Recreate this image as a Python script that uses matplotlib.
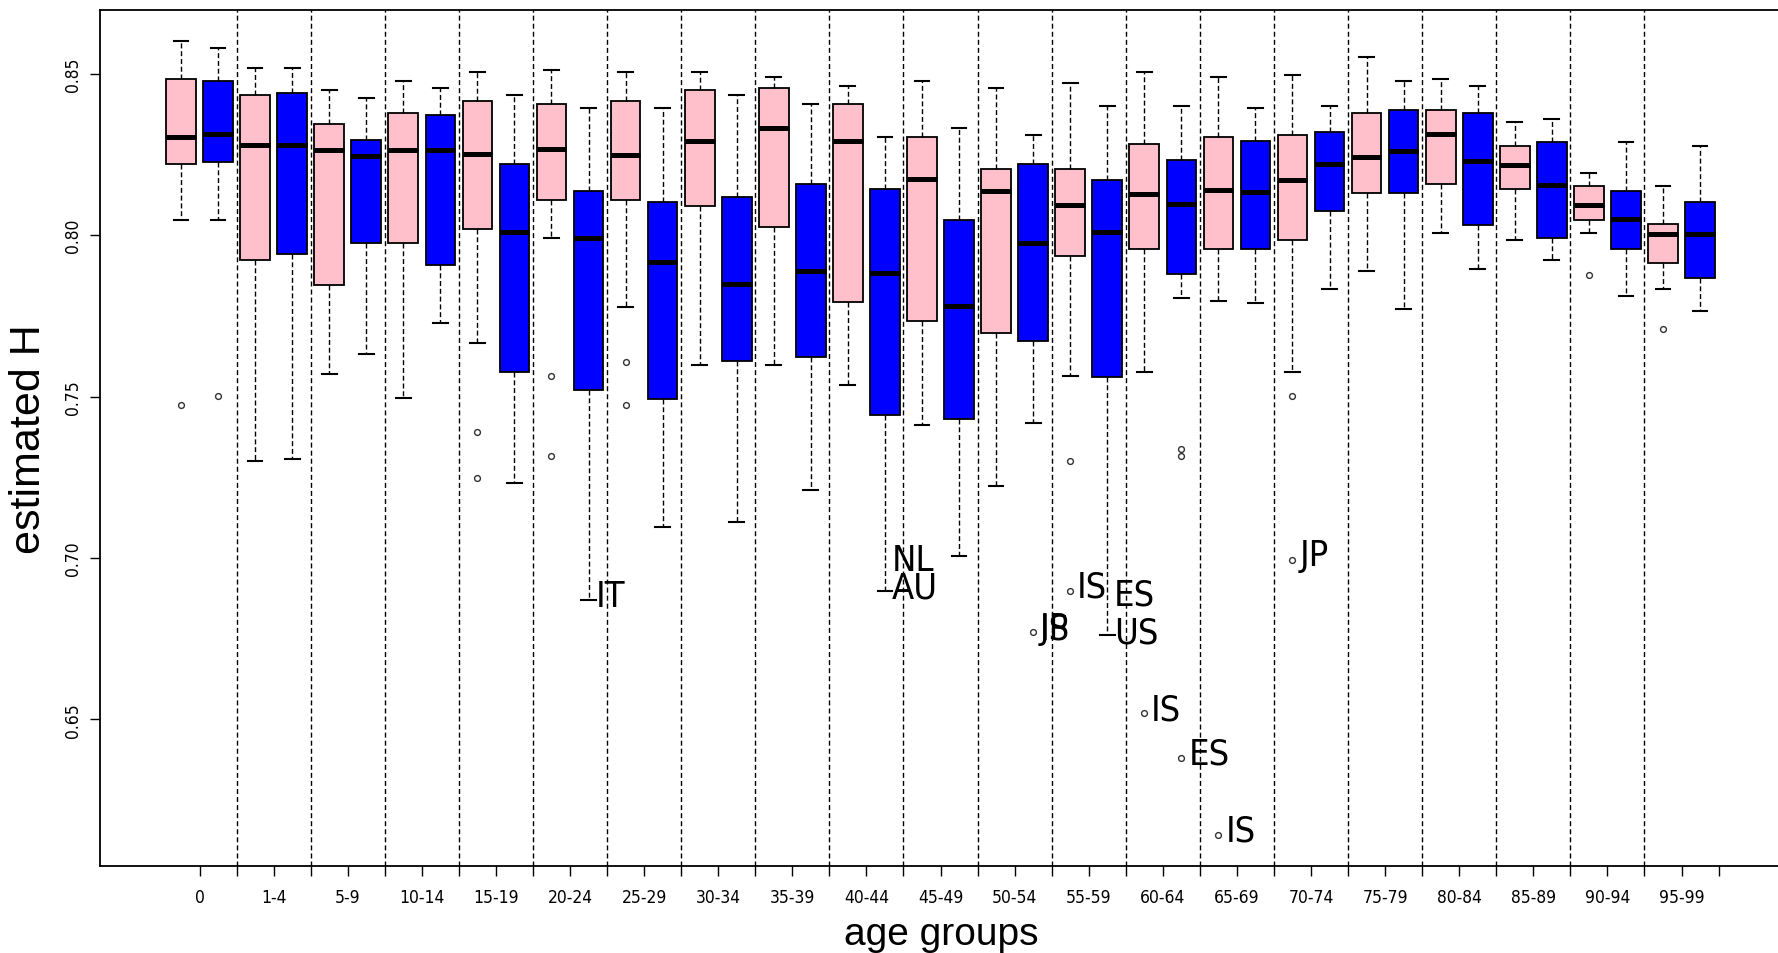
import matplotlib
matplotlib.use("Agg")
import matplotlib.pyplot as plt
from matplotlib import font_manager
import numpy as np

# age groups on the x axis
age_groups = ["0", "1-4", "5-9", "10-14", "15-19", "20-24", "25-29", "30-34",
              "35-39", "40-44", "45-49", "50-54", "55-59", "60-64", "65-69",
              "70-74", "75-79", "80-84", "85-89", "90-94", "95-99"]

# pink boxes: lower whisker, q1, median, q3, upper whisker
pink_lo = [0.8047, 0.7299, 0.7569, 0.7494, 0.7667, 0.7992, 0.7776, 0.7598, 0.7598, 0.7535, 0.7411,
           0.7223, 0.7562, 0.7576, 0.7797, 0.7576, 0.7888, 0.8005, 0.7986, 0.8005, 0.7832]
pink_q1 = [0.8220, 0.7922, 0.7846, 0.7976, 0.8020, 0.8108, 0.8108, 0.8089, 0.8026, 0.7792, 0.7735,
           0.7696, 0.7936, 0.7958, 0.7957, 0.7986, 0.8130, 0.8158, 0.8143, 0.8046, 0.7914]
pink_med = [0.8304, 0.8279, 0.8262, 0.8262, 0.8250, 0.8268, 0.8249, 0.8290, 0.8331, 0.8292, 0.8174,
            0.8137, 0.8092, 0.8128, 0.8140, 0.8172, 0.8241, 0.8314, 0.8218, 0.8092, 0.8002]
pink_q3 = [0.8483, 0.8434, 0.8345, 0.8379, 0.8414, 0.8407, 0.8414, 0.8450, 0.8456, 0.8407, 0.8304,
           0.8205, 0.8205, 0.8282, 0.8304, 0.8310, 0.8379, 0.8387, 0.8276, 0.8151, 0.8033]
pink_hi = [0.8600, 0.8517, 0.8450, 0.8478, 0.8506, 0.8511, 0.8505, 0.8505, 0.8489, 0.8461, 0.8477,
           0.8454, 0.8470, 0.8505, 0.8490, 0.8496, 0.8552, 0.8483, 0.8351, 0.8192, 0.8151]

# blue boxes
blue_lo = [0.8047, 0.7306, 0.7632, 0.7729, 0.7231, 0.6869, 0.7097, 0.7112, 0.7210, 0.6897, 0.7007,
           0.7417, 0.6760, 0.7805, 0.7790, 0.7833, 0.7770, 0.7895, 0.7923, 0.7812, 0.7764]
blue_q1 = [0.8226, 0.7942, 0.7976, 0.7908, 0.7576, 0.7519, 0.7492, 0.7611, 0.7623, 0.7444, 0.7429,
           0.7673, 0.7561, 0.7879, 0.7957, 0.8074, 0.8130, 0.8032, 0.7992, 0.7957, 0.7866]
blue_med = [0.8314, 0.8279, 0.8246, 0.8262, 0.8011, 0.7992, 0.7918, 0.7850, 0.7888, 0.7881, 0.7780,
            0.7974, 0.8008, 0.8095, 0.8134, 0.8221, 0.8259, 0.8228, 0.8156, 0.8051, 0.8002]
blue_q3 = [0.8477, 0.8441, 0.8296, 0.8373, 0.8221, 0.8136, 0.8103, 0.8117, 0.8157, 0.8143, 0.8047,
           0.8220, 0.8171, 0.8233, 0.8290, 0.8318, 0.8387, 0.8379, 0.8289, 0.8136, 0.8103]
blue_hi = [0.8580, 0.8517, 0.8426, 0.8455, 0.8434, 0.8394, 0.8393, 0.8434, 0.8407, 0.8304, 0.8331,
           0.8310, 0.8399, 0.8399, 0.8393, 0.8399, 0.8478, 0.8462, 0.8359, 0.8289, 0.8276]

# outliers: group index -> values
pink_out = {0: [0.7475], 4: [0.7391, 0.7247], 5: [0.7565, 0.7315], 6: [0.7606, 0.7475],
            12: [0.7301, 0.6899], 13: [0.6519], 14: [0.6143], 15: [0.7503, 0.6995],
            19: [0.7877], 20: [0.7709]}
blue_out = {0: [0.7503], 11: [0.677], 13: [0.7337, 0.7317, 0.638]}

# country labels: (series, group index, value, text)
labels = [("blue", 5, 0.6869, "IT"), ("blue", 9, 0.6980, "NL"), ("blue", 9, 0.6897, "AU"),
          ("blue", 11, 0.677, "IS"), ("blue", 11, 0.677, "JP"), ("pink", 12, 0.6899, "IS"),
          ("blue", 12, 0.6874, "ES"), ("blue", 12, 0.6757, "US"), ("pink", 13, 0.6519, "IS"),
          ("blue", 13, 0.638, "ES"), ("pink", 14, 0.6143, "IS"), ("pink", 15, 0.6995, "JP")]


# look for a narrow font like the R output, else plain Liberation Sans
def narrow_font(size):
    wanted = ["liberationsansnarrow-regular", "dejavusanscondensed.", "robotocondensed-regular",
              "notosans-condensed.", "opensans-condensed", "opensans_condensed"]
    files = [f.fname for f in font_manager.fontManager.ttflist]
    for w in wanted:
        for fn in files:
            if w in fn.lower().replace(" ", ""):
                return font_manager.FontProperties(fname=fn, size=size)
    return font_manager.FontProperties(family=["Liberation Sans", "DejaVu Sans"], size=size)


fp_tick = narrow_font(12.5)
fp_lab = narrow_font(26)

fig = plt.figure(figsize=(17.78, 9.54), dpi=100)
ax = fig.add_axes([0.05636, 0.09088, 0.94522, 0.8979])

n = len(age_groups)
pos_pink = np.arange(n) * 2 + 1
pos_blue = np.arange(n) * 2 + 2


def make_stats(lo, q1, med, q3, hi, out):
    st = []
    for i in range(n):
        st.append(dict(whislo=lo[i], q1=q1[i], med=med[i], q3=q3[i], whishi=hi[i],
                       fliers=out.get(i, [])))
    return st


common = dict(widths=0.8, patch_artist=True, showfliers=True,
              medianprops=dict(color="black", lw=3.6, solid_capstyle="butt"),
              whiskerprops=dict(color="black", lw=1.0, linestyle=(0, (3.6, 2.0))),
              capprops=dict(color="black", lw=1.5),
              flierprops=dict(marker="o", markersize=4.2, markerfacecolor="none",
                              markeredgecolor="#333333", markeredgewidth=1.0))

for stats, pos, col in [(make_stats(pink_lo, pink_q1, pink_med, pink_q3, pink_hi, pink_out), pos_pink, "#FFC0CB"),
                        (make_stats(blue_lo, blue_q1, blue_med, blue_q3, blue_hi, blue_out), pos_blue, "#0000FF")]:
    ax.bxp(stats, positions=pos, boxprops=dict(facecolor=col, edgecolor="black", lw=1.3), **common)

# dashed separators between age groups
for x in np.arange(2.5, 2 * n - 1, 2):
    ax.axvline(x, color="black", lw=1.0, linestyle=(0, (3.6, 2.2)), zorder=5)

for series, gi, val, txt in labels:
    xp = pos_pink[gi] if series == "pink" else pos_blue[gi]
    ax.annotate(txt, (xp, val), xytext=(5, 3), textcoords="offset points",
                ha="left", va="center", fontproperties=fp_lab, color="black", zorder=6)

ax.set_xlim(-1.18, 44.18)
ax.set_ylim(0.6045, 0.8698)

ax.set_xticks(np.arange(n) * 2 + 1.5)
ax.set_xticklabels(age_groups, fontproperties=fp_tick)
ax.set_xticks(np.arange(n) * 2 + 2.5, minor=True)
ax.tick_params(axis="x", which="both", direction="out", length=7.2, width=1.0, pad=8.5)

yt = [0.65, 0.70, 0.75, 0.80, 0.85]
ax.set_yticks(yt)
ax.set_yticklabels(["%.2f" % v for v in yt], fontproperties=fp_tick, rotation=90, va="center")
ax.tick_params(axis="y", direction="out", length=7.2, width=1.0, pad=6)

for s in ["left", "bottom", "top"]:
    ax.spines[s].set_linewidth(1.3)
ax.spines["right"].set_visible(False)

fig.text(29.5 / 1778, 1 - 439.5 / 954, "estimated H", rotation=90, ha="center", va="center",
         fontsize=31, family=["Liberation Sans", "DejaVu Sans"])
fig.text(941.5 / 1778, 1 - 945 / 954, "age groups", ha="center", va="baseline",
         fontsize=28, family=["Liberation Sans", "DejaVu Sans"])

fig.savefig("out.png", dpi=100)
